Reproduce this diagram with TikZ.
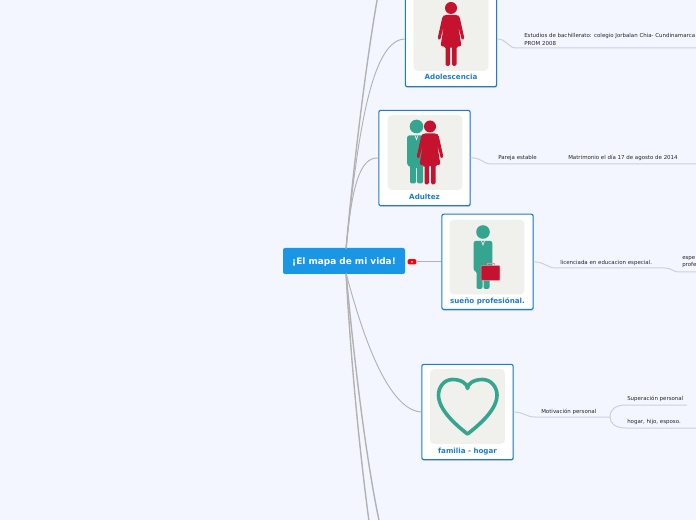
\documentclass[tikz,border=0pt]{standalone}
\usepackage{fontspec}
\setmainfont{DejaVu Sans}
\usepackage{xcolor}
\usetikzlibrary{shadows}
\definecolor{pagebg}{HTML}{F3F6FE}
\definecolor{rootblue}{HTML}{1A96E6}
\definecolor{cardblue}{HTML}{1C7CD9}
\definecolor{photogray}{HTML}{F0F0EC}
\definecolor{teal}{HTML}{35A58F}
\definecolor{crimson}{HTML}{C4122F}
\definecolor{branchgray}{HTML}{B2B2B2}
\definecolor{twiggray}{HTML}{CBD0DA}
\tikzset{
    woman/.pic={
        \fill[crimson] (0,0) circle (6);
        \fill[crimson, rounded corners=1.2] (-6.5,7) -- (6.5,7) -- (8.5,8.5) -- (13.5,31) -- (11,32.5) -- (7,17) -- (10.5,38.5) -- (5.5,38.5) -- (5.5,58) -- (1,58) -- (1,38.5) -- (-1,38.5) -- (-1,58) -- (-5.5,58) -- (-5.5,38.5) -- (-10.5,38.5) -- (-7,17) -- (-11,32.5) -- (-13.5,31) -- (-8.5,8.5) -- cycle;
    },
    man/.pic={
        \fill[teal] (0,0) circle (6.8);
        \fill[teal, rounded corners=1.5] (-9.3,9) -- (9.3,9) -- (9.3,39) -- (6.5,39) -- (6.5,57) -- (0.5,57) -- (0.5,40) -- (-0.5,40) -- (-0.5,57) -- (-6.5,57) -- (-6.5,39) -- (-9.3,39) -- cycle;
        \draw[photogray, line width=0.5] (-1.5,9) -- (0,13) -- (1.5,9);
    }
}
\begin{document}
\begin{tikzpicture}[
    x=0.75pt, y=-0.75pt,
    root/.style={fill=rootblue, rounded corners=1.5pt, minimum width=91.5pt, minimum height=19.5pt, inner sep=0pt, text=white, text depth=0pt, font=\fontsize{6.7pt}{8pt}\selectfont\bfseries},
    card/.style={draw=cardblue, line width=0.85pt, fill=white, rounded corners=1.5pt, minimum width=68.5pt, minimum height=71.5pt, inner sep=0pt, drop shadow={shadow xshift=0.3pt, shadow yshift=-0.9pt, opacity=0.35}},
    photo/.style={fill=photogray, rounded corners=3pt, minimum width=56pt, minimum height=56pt, inner sep=0pt},
    cardtext/.style={text=cardblue, inner sep=0pt, text depth=0pt, font=\fontsize{5.35pt}{6.5pt}\selectfont\bfseries},
    leaf/.style={anchor=west, align=left, inner sep=0pt, text=black!85, font=\fontsize{4.1pt}{5.5pt}\selectfont},
    branch/.style={draw=branchgray, line width=1.05pt},
    thinbranch/.style={draw=branchgray, line width=0.7pt},
    twig/.style={draw=twiggray, line width=0.75pt},
    badge/.style={fill=red, rounded corners=1pt, minimum width=6.5pt, minimum height=4pt, inner sep=0pt}
]
    \path[use as bounding box, clip] (0,0) rectangle (696,520);
    \fill[pagebg] (0,0) rectangle (696,520);

    \coordinate (roottop) at (346,249);
    \coordinate (rootbottom) at (346,273);
    \coordinate (upoff) at (378,-5);
    \coordinate (downoffa) at (369.5,525);
    \coordinate (downoffb) at (380,525);

    \draw[branch] (roottop) .. controls (355,150) and (368,50) .. (upoff);
    \draw[branch] (rootbottom) .. controls (352,380) and (362,470) .. (downoffa);
    \draw[branch] (rootbottom) .. controls (356,380) and (368,470) .. (downoffb);

    \node[card] (teen) at (451,39) {};
    \node[card] (adult) at (424.5,158) {};
    \node[card] (dream) at (487.5,261.8) {};
    \node[card] (home) at (467.5,412) {};
    \node[root] (main) at (344,261) {¡El mapa de mi vida!};
    \node[badge] (flag) at (412,261.8) {};
    \fill[white] (flag.center) circle (1);

    \draw[thinbranch] (roottop) .. controls (352,185) and (360,157) .. (adult.west);
    \draw[thinbranch] (roottop) .. controls (358,130) and (372,40) .. (teen.west);
    \draw[thinbranch] (flag.east) -- (dream.west);
    \draw[thinbranch] (rootbottom) .. controls (365,345) and (390,410) .. (home.west);

    \node[photo] (teenpic) at (451,33.5) {};
    \node[photo] (adultpic) at (425,152.5) {};
    \node[photo] (dreampic) at (487,257) {};
    \node[photo] (homepic) at (467.5,406.5) {};

    \pic at (451,8) {woman};
    \pic at (416.5,126.5) {man};
    \pic at (430,126.5) {woman};
    \pic at (483,232) {man};

    \node[draw=white!55!crimson, fill=crimson, line width=0.4pt, rounded corners=0.5pt, minimum width=14pt, minimum height=11pt, inner sep=0pt] (suitcase) at (490.5,273) {};
    \draw[white!55!crimson, line width=0.6pt] (487,265.5) -- (487,263.5) -- (494,263.5) -- (494,265.5);

    \draw[teal, line width=2.7pt, line cap=round, line join=round] (467.5,388.5) .. controls (467.5,383.5) and (461,379.5) .. (452.5,379.5) .. controls (444,379.5) and (438.5,387) .. (438.5,395) .. controls (438.5,410) and (456,425) .. (467.5,434) .. controls (479,425) and (497,410) .. (497,395) .. controls (497,387) and (491,379.5) .. (482.5,379.5) .. controls (474,379.5) and (467.5,383.5) .. (467.5,388.5);

    \node[cardtext] (teentext) at (451,77) {Adolescencia};
    \node[cardtext] (adulttext) at (424.5,196.5) {Adultez};
    \node[cardtext] (dreamtext) at (487.5,300.5) {sueño profesiónal.};
    \node[cardtext] (hometext) at (467.5,450.5) {familia - hogar};

    \coordinate (studybend) at (516,48);
    \coordinate (studyend) at (700,48);
    \coordinate (couplebend) at (491,164);
    \coordinate (coupleend) at (700,164);
    \coordinate (degreebend) at (556,268);
    \coordinate (degreeturn) at (665,268);
    \coordinate (degreeend) at (700,272);
    \coordinate (motivebend) at (535,417);
    \coordinate (motivefork) at (610,417);
    \coordinate (growend) at (687,405);
    \coordinate (familyend) at (700,428);

    \draw[twig] (teen.east) .. controls (507,39) and (508,48) .. (studybend) -- (studyend);
    \draw[twig] (adult.east) .. controls (481,157) and (483,164) .. (couplebend) -- (coupleend);
    \draw[twig] (dream.east) .. controls (545,262) and (547,268) .. (degreebend) -- (degreeturn) .. controls (672,268) and (672,272) .. (680,272) -- (degreeend);
    \draw[twig] (home.east) .. controls (524,412) and (526,417) .. (motivebend) -- (motivefork);
    \draw[twig] (motivefork) .. controls (610,409) and (616,405) .. (626,405) -- (growend);
    \draw[twig] (motivefork) .. controls (610,424) and (616,428) .. (626,428) -- (familyend);

    \node[leaf] (study) at (524,39.5) {Estudios de bachillerato: colegio Jorbalan Chia- Cundinamarca\\PROM 2008};
    \node[leaf] (couple) at (498,158) {Pareja estable};
    \node[leaf] (wedding) at (568,158) {Matrimonio el día 17 de agosto de 2014};
    \node[leaf] (degree) at (560,263) {licenciada en educacion especial.};
    \node[leaf] (special) at (682,262) {espe\\profe};
    \node[leaf] (motive) at (541,412) {Motivación personal};
    \node[leaf] (grow) at (627,399) {Superación personal};
    \node[leaf] (family) at (627,422) {hogar, hijo, esposo.};
\end{tikzpicture}
\end{document}
